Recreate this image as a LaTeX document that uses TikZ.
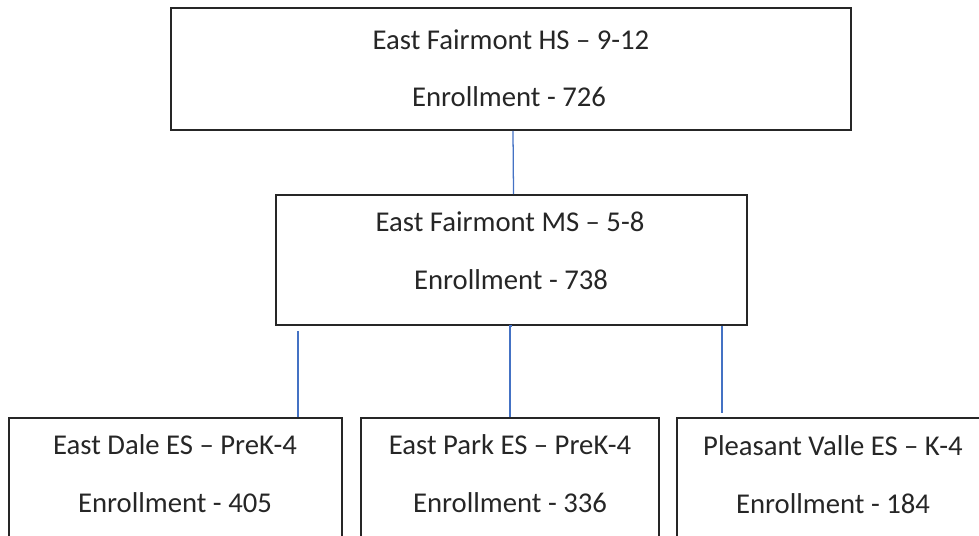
\documentclass[tikz,border=0pt]{standalone}
\usepackage{fontspec}
\setmainfont{Carlito}
\definecolor{linkblue}{RGB}{68,114,196}
\tikzset{
	escola/.style={draw=black!85, line width=1.2pt, rectangle, inner sep=0pt},
	texto/.style={font=\fontsize{20.4}{24}\selectfont, text=black!85, inner sep=0pt},
	ligacao/.style={draw=linkblue, line width=0.9pt}
}
\begin{document}
\begin{tikzpicture}[x=0.025cm, y=-0.025cm]  %Inicio, 1 unidade = 1 pixel
	\useasboundingbox (0,0) rectangle (979,535); %Tamanho da figura
	\clip (0,0) rectangle (979,535);
					%Caixas
	\node[escola, minimum width=17cm, minimum height=3.05cm] (hs) at (511,69) {}; %Ensino medio
	\node[escola, minimum width=11.775cm, minimum height=3.25cm] (ms) at (511.5,260) {}; %Fundamental
	\node[escola, minimum width=8.325cm, minimum height=4cm] (dale) at (175.5,498) {}; %East Dale
	\node[escola, minimum width=7.45cm, minimum height=4cm] (park) at (510,498) {}; %East Park
	\node[escola, minimum width=8.075cm, minimum height=4cm] (pleasant) at (838.5,498) {}; %Pleasant Valle
					%Textos
	\node[texto] (hs1) at (511,40) {East Fairmont HS – 9-12};
	\node[texto] (hs2) at (509,97) {Enrollment - 726};
	\node[texto] (ms1) at (510,222) {East Fairmont MS – 5-8};
	\node[texto] (ms2) at (511,280) {Enrollment - 738};
	\node[texto] (dale1) at (175,445) {East Dale ES – PreK-4};
	\node[texto] (dale2) at (175,503) {Enrollment - 405};
	\node[texto] (park1) at (510,445) {East Park ES – PreK-4};
	\node[texto] (park2) at (510,503) {Enrollment - 336};
	\node[texto] (pleasant1) at (833,446) {Pleasant Valle ES – K-4};
	\node[texto] (pleasant2) at (833,504) {Enrollment - 184};
					%Ligacoes
	\draw[ligacao] ([xshift=0.05cm]hs.south) -- ([xshift=0.05cm]ms.north); %HS - MS
	\draw[ligacao] ([xshift=0.575cm,yshift=-0.125cm]ms.south west) coordinate (c1) -- (c1 |- dale.north); %MS - Dale
	\draw[ligacao] (ms.south) -- (ms.south -| park.north) -- (park.north); %MS - Park
	\draw[ligacao] ([xshift=-0.65cm]ms.south east) coordinate (c3) -- ([yshift=0.1cm]c3 |- pleasant.north); %MS - Pleasant
\end{tikzpicture}
\end{document}
